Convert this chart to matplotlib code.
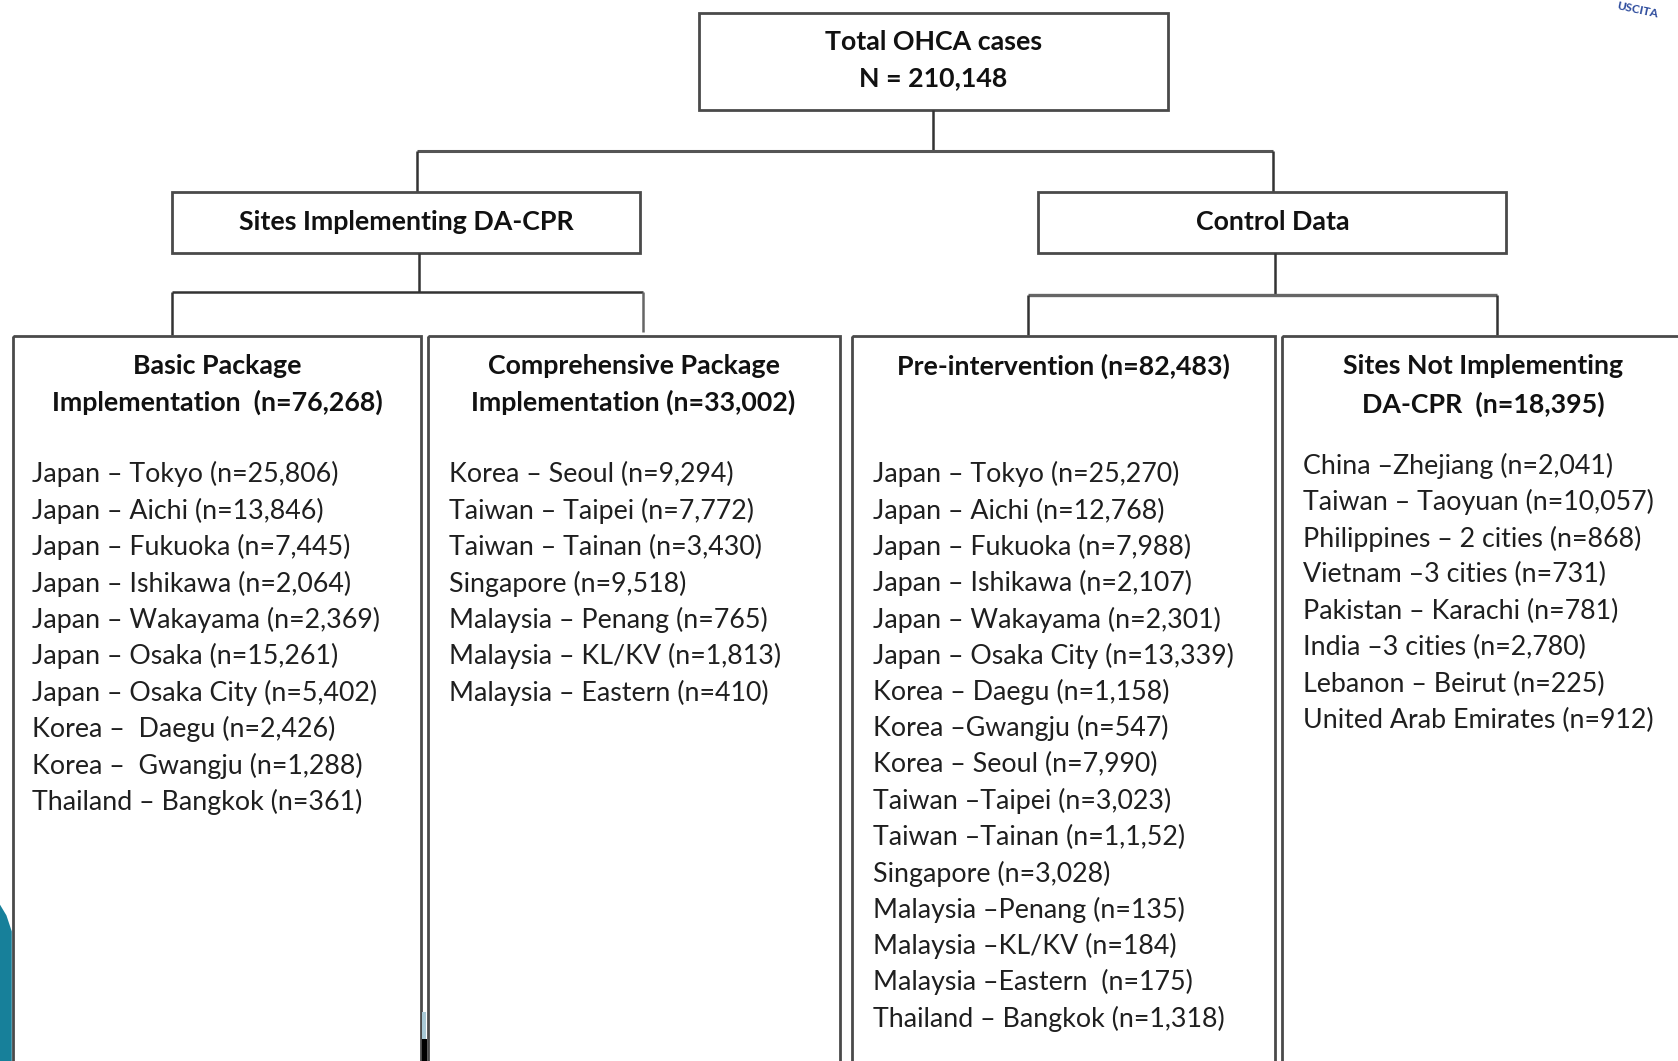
import matplotlib
matplotlib.use("Agg")
import matplotlib.pyplot as plt
from matplotlib.patches import Rectangle, Polygon

# ---------------- data ----------------
total_title = ["Total OHCA cases", "N = 210,148"]
level2_titles = ["Sites Implementing DA-CPR", "Control Data"]

basic_title = ["Basic Package", "Implementation  (n=76,268)"]
basic_sites = ["Japan \u2013 Tokyo", "Japan \u2013 Aichi", "Japan \u2013 Fukuoka", "Japan \u2013 Ishikawa",
               "Japan \u2013 Wakayama", "Japan \u2013 Osaka", "Japan \u2013 Osaka City", "Korea \u2013  Daegu",
               "Korea \u2013  Gwangju", "Thailand \u2013 Bangkok"]
basic_n = ["25,806", "13,846", "7,445", "2,064", "2,369", "15,261", "5,402", "2,426", "1,288", "361"]

comp_title = ["Comprehensive Package", "Implementation (n=33,002)"]
comp_sites = ["Korea \u2013 Seoul", "Taiwan \u2013 Taipei", "Taiwan \u2013 Tainan", "Singapore",
              "Malaysia \u2013 Penang", "Malaysia \u2013 KL/KV", "Malaysia \u2013 Eastern"]
comp_n = ["9,294", "7,772", "3,430", "9,518", "765", "1,813", "410"]

pre_title = ["Pre-intervention (n=82,483)"]
pre_sites = ["Japan \u2013 Tokyo", "Japan \u2013 Aichi", "Japan \u2013 Fukuoka", "Japan \u2013 Ishikawa",
             "Japan \u2013 Wakayama", "Japan \u2013 Osaka City", "Korea \u2013 Daegu", "Korea \u2013Gwangju",
             "Korea \u2013 Seoul", "Taiwan \u2013Taipei", "Taiwan \u2013Tainan", "Singapore",
             "Malaysia \u2013Penang", "Malaysia \u2013KL/KV", "Malaysia \u2013Eastern ", "Thailand \u2013 Bangkok"]
pre_n = ["25,270", "12,768", "7,988", "2,107", "2,301", "13,339", "1,158", "547", "7,990", "3,023",
         "1,1,52", "3,028", "135", "184", "175", "1,318"]

notimpl_title = ["Sites Not Implementing", "DA-CPR  (n=18,395)"]
notimpl_sites = ["China \u2013Zhejiang", "Taiwan \u2013 Taoyuan", "Philippines \u2013 2 cities",
                 "Vietnam \u20133 cities", "Pakistan \u2013 Karachi", "India \u20133 cities",
                 "Lebanon \u2013 Beirut", "United Arab Emirates"]
notimpl_n = ["2,041", "10,057", "868", "731", "781", "2,780", "225", "912"]

# ---------------- layout ----------------
W, H = 1568, 991
fig = plt.figure(figsize=(16.78, 10.61), dpi=100)
ax = fig.add_axes([0, 0, 1, 1])
ax.set_xlim(0, W)
ax.set_ylim(H, 0)
ax.axis("off")

FONT = "Lato"
edge = "#4a4a4a"
lw = 2.0
txt_col = "#1f1f1f"
head_col = "#111111"
fs_list = 19.3
fs_head = 19.3


def box(x0, y0, x1, y1):
    ax.add_patch(Rectangle((x0, y0), x1 - x0, y1 - y0, fill=False, ec=edge, lw=lw,
                           joinstyle="miter", zorder=2))


def line(xs, ys, c="#333333", w=1.8):
    ax.plot(xs, ys, color=c, lw=w, solid_capstyle="butt", solid_joinstyle="miter", zorder=2)


def header(lines, cx, ys):
    for t, y in zip(lines, ys):
        ax.text(cx, y, t, ha="center", va="center", fontsize=fs_head, fontweight="bold",
                color=head_col, family=FONT)


def items(sites, ns, x, y0, dy):
    for i, (s, n) in enumerate(zip(sites, ns)):
        ax.text(x, y0 + i * dy, f"{s} (n={n})", ha="left", va="center", fontsize=fs_list,
                color=txt_col, family=FONT)

# top box
box(653, 12, 1091, 103)
header(total_title, 872, [39, 73])
# connectors level 1
line([872, 872], [103, 141])
line([390, 1190], [141, 141], c="#555555", w=2.2)
line([390, 390], [141, 179])
line([1190, 1190], [141, 179])

# level 2
box(161, 179, 598, 236)
box(970, 179, 1407, 236)
header([level2_titles[0]], 380, [207])
header([level2_titles[1]], 1189, [207])

# connectors level 2
line([392, 392], [236, 273])
line([161, 601], [273, 273])
line([161, 161], [273, 313])
line([601, 601], [273, 310], c="#666666")
line([1191, 1191], [236, 276])
line([961, 1399], [276, 276], c="#666666", w=2.4)
line([961, 961], [276, 313])
line([1399, 1399], [276, 313])

# level 3 boxes (run off bottom)
box(12, 314, 393, 1010)
box(400, 314, 785, 1010)
box(796, 314, 1191, 1010)
box(1198, 314, 1600, 1010)

header(basic_title, 203, [342, 376])
header(comp_title, 592, [342, 376])
header(pre_title, 994, [342])
header(notimpl_title, 1386, [342, 378])

items(basic_sites, basic_n, 30, 443, 34.0)
items(comp_sites, comp_n, 420, 443, 34.0)
items(pre_sites, pre_n, 816, 443, 33.9)
items(notimpl_sites, notimpl_n, 1218, 435, 34.0)

# slide decorations
ax.add_patch(Polygon([(0, 845), (6, 855), (11, 870), (11, 991), (0, 991)], closed=True,
                     fc="#17809a", ec="none", zorder=1))
ax.add_patch(Rectangle((394, 945), 4, 25, fc="#a9c9d6", ec="none", zorder=3))
ax.add_patch(Rectangle((394, 970), 5, 21, fc="#000000", ec="none", zorder=3))
ax.text(1530, 9, "USCITA", ha="center", va="center", fontsize=8.5, fontweight="bold",
        color="#2b4a9c", family=FONT, rotation=-12)

fig.savefig("out.png", dpi=100)
